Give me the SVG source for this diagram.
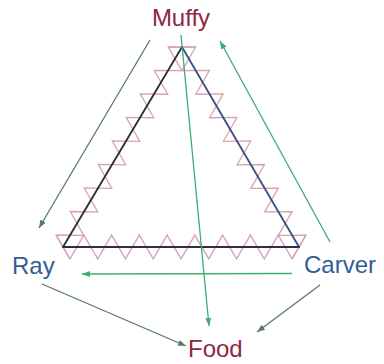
<svg xmlns="http://www.w3.org/2000/svg" xmlns:xlink="http://www.w3.org/1999/xlink" width="384" height="364" viewBox="0 0 384 364">
  <style>
    .zig { fill: none; stroke: #d8a2b4; stroke-width: 1.3; stroke-linejoin: miter; }
    .edge { fill: none; stroke-width: 1.8; stroke-linecap: round; }
    .arr { fill: none; stroke-width: 1.3; }
    .g1 { stroke: #3cae6e; }
    .g2 { stroke: #557a68; }
    .lbl { font-family: "Liberation Sans", Arial, sans-serif; font-size: 24px; }
    .red { fill: #8e2742; }
    .blue { fill: #335d96; }
  </style>
  <defs>
    <polyline id="zz" points="-6.9,-11.9 6.9,11.9 20.6,-11.9 34.4,11.9 48.1,-11.9 61.9,11.9 75.6,-11.9 89.4,11.9 103.1,-11.9 116.9,11.9 130.6,-11.9 144.4,11.9 158.1,-11.9 171.9,11.9 185.6,-11.9 199.4,11.9 213.1,-11.9 226.9,11.9 240.6,-11.9"/>
    <marker id="ah1" markerUnits="userSpaceOnUse" markerWidth="9" markerHeight="7" refX="8" refY="3" orient="auto">
      <path d="M0,0 L8,3 L0,6 z" fill="#3cae6e"/>
    </marker>
    <marker id="ah2" markerUnits="userSpaceOnUse" markerWidth="9" markerHeight="7" refX="8" refY="3" orient="auto">
      <path d="M0,0 L8,3 L0,6 z" fill="#557a68"/>
    </marker>
  </defs>
  <rect width="384" height="364" fill="#ffffff"/>

  <g id="triangle">
    <use xlink:href="#zz" href="#zz" class="zig" transform="translate(63,247) scale(1.0096,1)"/>
    <use xlink:href="#zz" href="#zz" class="zig" transform="translate(299,247) rotate(-120.33) scale(0.9912,1)"/>
    <use xlink:href="#zz" href="#zz" class="zig" transform="translate(182,47) rotate(120.76) scale(0.9955,1)"/>
    <line class="edge" x1="182" y1="47" x2="63" y2="247" stroke="#2b2b3e"/>
    <line class="edge" x1="182" y1="47" x2="299" y2="247" stroke="#3b4e80"/>
    <line class="edge" x1="63" y1="247" x2="299" y2="247" stroke="#2e2e44"/>
  </g>

  <g id="connectors">
    <line class="arr g2" x1="150" y1="40" x2="39" y2="228" marker-end="url(#ah2)"/>
    <line class="arr g1" x1="181" y1="35" x2="209" y2="326" marker-end="url(#ah1)"/>
    <line class="arr g1" x1="330" y1="242" x2="220" y2="41" marker-end="url(#ah1)"/>
    <line class="arr g1" x1="292" y1="273.5" x2="82" y2="274" marker-end="url(#ah1)"/>
    <line class="arr g2" x1="42" y1="284" x2="186" y2="346" marker-end="url(#ah2)"/>
    <line class="arr g2" x1="320" y1="285" x2="257" y2="332" marker-end="url(#ah2)"/>
  </g>

  <g id="node-muffy"><text class="lbl red" x="181" y="26" text-anchor="middle">Muffy</text></g>
  <g id="node-ray"><text class="lbl blue" x="12" y="274">Ray</text></g>
  <g id="node-carver"><text class="lbl blue" x="304" y="273">Carver</text></g>
  <g id="node-food"><text class="lbl red" x="188" y="357">Food</text></g>
</svg>
